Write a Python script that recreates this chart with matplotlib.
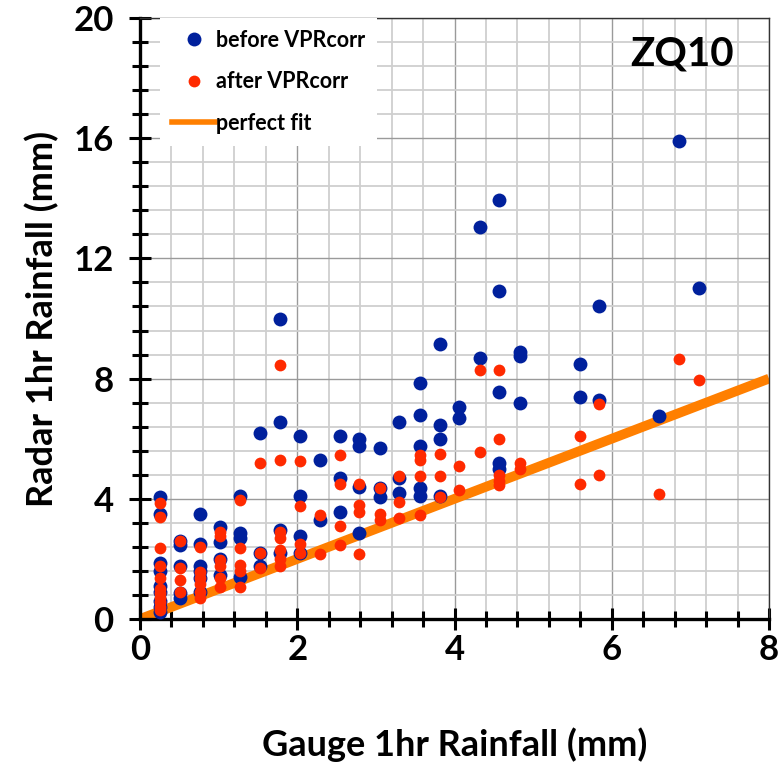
import numpy as np
import matplotlib
matplotlib.use("Agg")
import matplotlib.pyplot as plt
from matplotlib.lines import Line2D
from matplotlib.ticker import MultipleLocator

plt.rcParams["font.family"] = ["Lato", "DejaVu Sans"]
plt.rcParams["font.weight"] = "bold"

BLUE = "#00209C"
RED = "#FF2A00"
ORANGE = "#FF7F00"

# gauge value (mm) -> radar values (mm)
before = {
    0.25: [4.05, 3.5, 1.85, 1.6, 1.1, 0.9, 0.6, 0.4, 0.25],
    0.51: [2.6, 2.45, 1.75, 0.85, 0.7],
    0.76: [3.5, 2.5, 1.75, 1.6, 1.35, 0.9],
    1.02: [3.05, 2.55, 2.0, 1.45],
    1.27: [4.1, 2.85, 2.7, 1.4],
    1.52: [6.2, 2.2, 1.75],
    1.78: [10.0, 6.55, 2.95, 2.2],
    2.03: [6.1, 4.1, 2.75, 2.2],
    2.29: [5.3, 3.3],
    2.54: [6.1, 4.7, 3.55],
    2.79: [6.0, 5.75, 4.4, 2.85],
    3.05: [5.7, 4.35, 4.05],
    3.30: [6.55, 4.7, 4.2],
    3.56: [7.85, 6.8, 5.75, 4.35, 4.1],
    3.81: [9.15, 6.45, 6.0, 4.1],
    4.06: [7.05, 6.7],
    4.32: [13.05, 8.7],
    4.57: [13.95, 10.9, 7.55, 5.2, 5.0],
    4.83: [8.9, 8.75, 7.2],
    5.59: [8.5, 7.4],
    5.84: [10.4, 7.3],
    6.60: [6.75],
    6.86: [15.9],
    7.11: [11.0],
}
after = {
    0.25: [3.85, 3.4, 2.35, 1.75, 1.35, 1.0, 0.85, 0.7, 0.55, 0.4, 0.3],
    0.51: [2.6, 1.7, 1.3, 0.9],
    0.76: [2.4, 1.55, 1.35, 1.15, 0.9, 0.7],
    1.02: [2.9, 2.75, 1.95, 1.75, 1.35, 1.05],
    1.27: [3.95, 2.35, 1.8, 1.6, 1.05],
    1.52: [5.2, 2.2, 1.7],
    1.78: [8.45, 5.3, 2.9, 2.7, 2.3, 2.0, 1.75],
    2.03: [5.25, 3.75, 2.5, 2.2],
    2.29: [3.45, 2.15],
    2.54: [5.45, 4.5, 3.1, 2.45],
    2.79: [4.5, 3.8, 3.55, 2.15],
    3.05: [4.35, 3.5, 3.3],
    3.30: [4.75, 3.9, 3.35],
    3.56: [5.45, 5.3, 4.75, 3.45],
    3.81: [5.5, 4.75, 4.05],
    4.06: [5.1, 4.3],
    4.32: [8.3, 5.55],
    4.57: [8.3, 6.0, 4.8, 4.6, 4.45],
    4.83: [5.2, 5.0],
    5.59: [6.1, 4.5],
    5.84: [7.15, 4.8],
    6.60: [4.15],
    6.86: [8.65],
    7.11: [7.95],
}
fit_x = [0, 8]
fit_y = [0, 8]


def flat(d):
    xs = [g for g, vals in d.items() for _ in vals]
    ys = [v for vals in d.values() for v in vals]
    return np.array(xs), np.array(ys)


bx, by = flat(before)
rx, ry = flat(after)

fig = plt.figure(figsize=(7.78, 7.63), dpi=100)
ax = fig.add_axes([0.18, 0.1887, 0.8084, 0.7877])

ax.plot(fit_x, fit_y, color=ORANGE, lw=7, solid_capstyle="butt", zorder=2)
ax.scatter(bx, by, s=100, c=BLUE, lw=0, zorder=3)
ax.scatter(rx, ry, s=72, c=RED, lw=0, zorder=4)

ax.set_xlim(0, 8); ax.set_ylim(0, 20)
ax.xaxis.set_major_locator(MultipleLocator(2)); ax.xaxis.set_minor_locator(MultipleLocator(0.4))
ax.yaxis.set_major_locator(MultipleLocator(4)); ax.yaxis.set_minor_locator(MultipleLocator(0.8))
ax.grid(which="minor", color="#cfcfcf", lw=1.3, zorder=0)
ax.grid(which="major", color="#9a9a9a", lw=1.0, zorder=0)
ax.set_axisbelow(True)

ax.tick_params(which="major", direction="inout", length=16, width=2.2, labelsize=25, pad=3)
ax.tick_params(which="minor", direction="inout", length=12, width=2.2)
ax.tick_params(axis="y", which="major", pad=11)
for s in ("left", "bottom"):
    ax.spines[s].set_linewidth(2.4)
for s in ("top", "right"):
    ax.spines[s].set_linewidth(1.0); ax.spines[s].set_color("#333333")

ax.set_xlabel("Gauge 1hr Rainfall (mm)", fontsize=26, fontweight="bold", labelpad=44)
ax.set_ylabel("Radar 1hr Rainfall (mm)", fontsize=26, fontweight="bold", labelpad=10)

ax.text(6.9, 18.8, "ZQ10", fontsize=29, fontweight="bold", ha="center", va="center")

handles = [
    Line2D([], [], ls="", marker="o", ms=10, mfc=BLUE, mec="none"),
    Line2D([], [], ls="", marker="o", ms=8.5, mfc=RED, mec="none"),
    Line2D([], [], color=ORANGE, lw=4),
]
leg = ax.legend(handles, ["before VPRcorr", "after VPRcorr", "perfect fit"],
                loc="upper left", bbox_to_anchor=(0.032, 1.0), fontsize=15.5,
                frameon=True, fancybox=False, framealpha=1, edgecolor="none",
                facecolor="white", labelspacing=0.95, handlelength=2.0,
                handletextpad=0.05, borderpad=0.55, borderaxespad=0)
for t in leg.get_texts():
    t.set_fontweight("bold")

fig.savefig("out.png", dpi=100)
